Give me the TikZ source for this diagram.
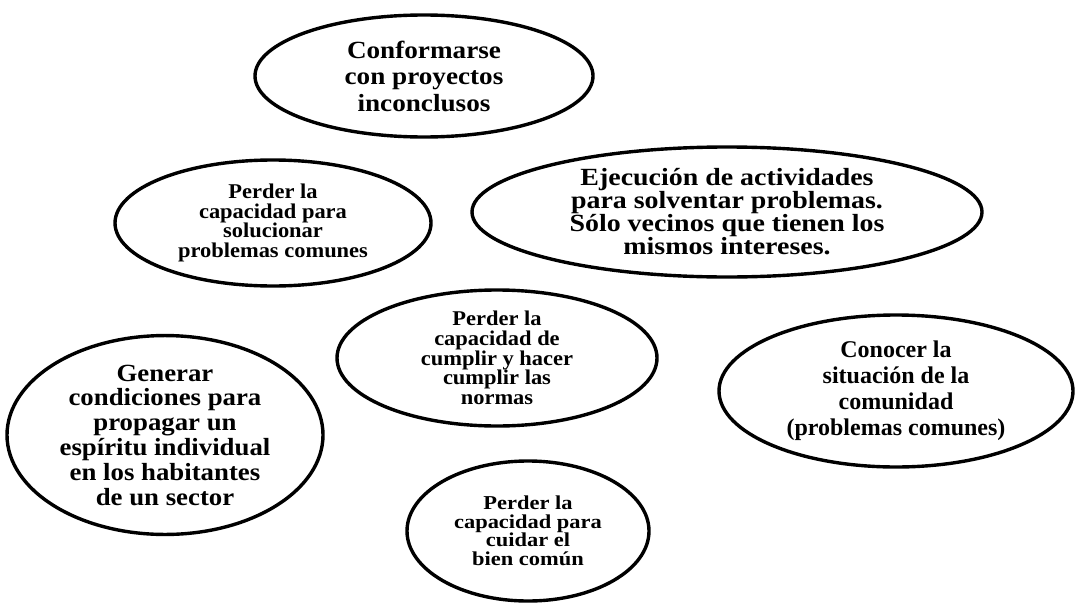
\documentclass[tikz,border=0pt]{standalone}
\usepackage{fontspec}
\setmainfont{Liberation Serif}
\usetikzlibrary{shapes.geometric}

\def\ovalfont#1#2#3{\fontsize{#1}{#2}\selectfont\bfseries\addfontfeatures{FakeStretch=#3}}

\begin{document}
\begin{tikzpicture}[x=1pt, y=-1pt,
    oval/.style 2 args={draw=black, line width=3.4pt, ellipse, inner sep=0pt, align=center,
      minimum width=2*#1, minimum height=2*#2}]
            \useasboundingbox (0,0) rectangle (1076,605);
            \node[oval={169}{61}, font=\ovalfont{24.7}{26.5}{1.1}] (proyectos) at (424,76) {Conformarse\\con proyectos\\inconclusos};
            \node[oval={158}{63}, font=\ovalfont{21}{19.8}{1.07}] (solucionar) at (273,223) {Perder la\\capacidad para\\solucionar\\problemas comunes};
            \node[oval={255}{65}, font=\ovalfont{24.7}{23}{1.13}] (actividades) at (727,212) {Ejecución de actividades\\para solventar problemas.\\Sólo vecinos que tienen los\\mismos intereses.};
            \node[oval={160}{68}, font=\ovalfont{21}{19.6}{1.07}] (normas) at (497,358) {Perder la\\capacidad de\\cumplir y hacer\\cumplir las\\normas};
            \node[oval={158}{85}, font=\ovalfont{24.7}{24.8}{1.085}] (espiritu) at (165,435) {Generar\\condiciones para\\propagar un\\espíritu individual\\en los habitantes\\de un sector};
            \node[oval={177}{76}, font=\ovalfont{24}{26}{1.0}] (situacion) at (896,391) {Conocer la\\situación de la\\comunidad\\(problemas comunes)};
            \node[oval={121}{70}, font=\ovalfont{19.7}{18.5}{1.14}] (bien) at (528,531) {Perder la\\capacidad para\\cuidar el\\bien común};
        \end{tikzpicture}
\end{document}
